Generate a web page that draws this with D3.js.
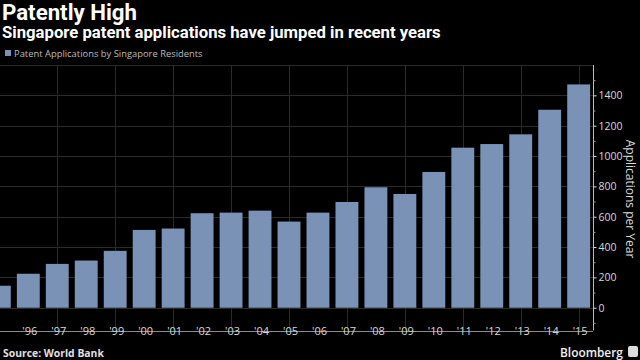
<!DOCTYPE html>
<html><head><meta charset="utf-8">
<script src="https://cdn.jsdelivr.net/npm/d3@7"></script>
<style>html,body{margin:0;padding:0;background:#000;}svg{display:block;}</style>
</head><body>
<svg id="c" width="640" height="360"></svg>
<script>
const years = [1995,1996,1997,1998,1999,2000,2001,2002,2003,2004,2005,2006,2007,2008,2009,2010,2011,2012,2013,2014,2015];
const values = [145,224,289,311,375,513,522,623,627,640,568,627,697,794,750,895,1055,1079,1143,1305,1472];
const yTicks = [0,200,400,600,800,1000,1200,1400];
const yMinorTicks = [-100,100,300,500,700,900,1100,1300,1500];
const title = "Patently High";
const subtitle = "Singapore patent applications have jumped in recent years";
const legendLabel = "Patent Applications by Singapore Residents";
const yTitle = "Applications per Year";
const source = "Source: World Bank";

const svg = d3.select("#c");
const barColor = "#7a92b6";
const font = "'Open Sans', 'DejaVu Sans', sans-serif";
const headFont = "Roboto, 'Open Sans', sans-serif";

const x = d3.scaleBand().domain(years).range([-15, 593]).paddingInner(0.21).paddingOuter(0.1);
const y = d3.scaleLinear().domain([-150, 1600]).range([330.5, 65]);
const left = 0, right = 593;

// size a text so its width matches a target width
function fit(sel, base, width) {
  sel.style("font-size", base + "px");
  const w = sel.node().getComputedTextLength();
  if (w > 0) sel.style("font-size", (base * width / w).toFixed(2) + "px");
  return sel;
}

// horizontal gridlines
svg.append("g").selectAll("line").data(yTicks.concat([1600])).join("line")
  .attr("x1", left).attr("x2", right)
  .attr("y1", d => Math.round(y(d)) + 0.5).attr("y2", d => Math.round(y(d)) + 0.5)
  .attr("stroke", "#2a2a2a").attr("stroke-width", 1);

// vertical gridlines at odd years
svg.append("g").selectAll("line").data(years.filter(d => d % 2 === 1)).join("line")
  .attr("x1", d => Math.round(x(d) + x.bandwidth()/2) + 0.5)
  .attr("x2", d => Math.round(x(d) + x.bandwidth()/2) + 0.5)
  .attr("y1", y(1600)).attr("y2", y(-150))
  .attr("stroke", "#2a2a2a").attr("stroke-width", 1);

// bars
svg.append("g").selectAll("rect").data(years).join("rect")
  .attr("x", d => x(d))
  .attr("width", x.bandwidth())
  .attr("y", (d,i) => y(values[i]))
  .attr("height", (d,i) => y(0) - y(values[i]))
  .attr("fill", barColor);

// bottom border
svg.append("line").attr("x1", left).attr("x2", right)
  .attr("y1", Math.round(y(-150)) + 0.5).attr("y2", Math.round(y(-150)) + 0.5)
  .attr("stroke", "#8a8a8a").attr("stroke-width", 1);

// right axis
const yAxis = d3.axisRight(y).tickValues(yTicks).tickSize(3).tickPadding(2).tickFormat(d3.format("d"));
const ga = svg.append("g").attr("transform", `translate(${right + 0.5},0)`).call(yAxis);
ga.select(".domain").attr("stroke", "#bbb").attr("d", `M0,${y(1600)}V${y(-150)}`);
ga.selectAll(".tick line").attr("stroke", "#ddd");
ga.selectAll(".tick text").attr("fill", "#d8d8d8").style("font-family", font).style("font-size", "10.5px");
const gm = svg.append("g").attr("transform", `translate(${right + 0.5},0)`)
  .call(d3.axisRight(y).tickValues(yMinorTicks).tickSize(2).tickFormat(""));
gm.select(".domain").remove();
gm.selectAll(".tick line").attr("stroke", "#999");

// x axis labels
const xAxis = d3.axisBottom(x).tickValues(years.slice(1)).tickSize(0).tickPadding(0)
  .tickFormat(d => "'" + String(d).slice(2));
const gx = svg.append("g").attr("transform", `translate(0,332)`).call(xAxis);
gx.select(".domain").remove();
gx.selectAll(".tick text").attr("fill", "#d8d8d8").attr("dy", "0.3em").attr("y", 0)
  .style("font-family", font).style("font-size", "11px").attr("dx", "1.5");

// y title
svg.append("text").attr("transform", `translate(626,199) rotate(90)`)
  .attr("text-anchor", "middle").attr("fill", "#d8d8d8")
  .style("font-family", font).style("font-size", "12px").text(yTitle);

// titles
fit(svg.append("text").attr("x", 2).attr("y", 19.5).attr("fill", "#fff")
  .style("font-family", headFont).style("font-weight", "bold").text(title), 18, 135);
fit(svg.append("text").attr("x", 2).attr("y", 37.5).attr("fill", "#fff")
  .style("font-family", headFont).style("font-weight", "bold").text(subtitle), 13, 439);

// legend
svg.append("rect").attr("x", 5).attr("y", 50).attr("width", 6).attr("height", 6).attr("fill", barColor);
fit(svg.append("text").attr("x", 14).attr("y", 57).attr("fill", "#bbb")
  .style("font-family", font).text(legendLabel), 9.5, 189);

// source
fit(svg.append("text").attr("x", 3).attr("y", 357).attr("fill", "#e0e0e0")
  .style("font-family", font).style("font-weight", "bold").text(source), 9, 101);

// Bloomberg
fit(svg.append("text").attr("x", 560).attr("y", 357).attr("fill", "#f0f0f0")
  .style("font-family", font).style("font-weight", "600").text("Bloomberg"), 13, 63);
svg.append("rect").attr("x", 628).attr("y", 346).attr("width", 10).attr("height", 11).attr("rx", 2).attr("fill", "#ddd");
</script>
</body></html>
